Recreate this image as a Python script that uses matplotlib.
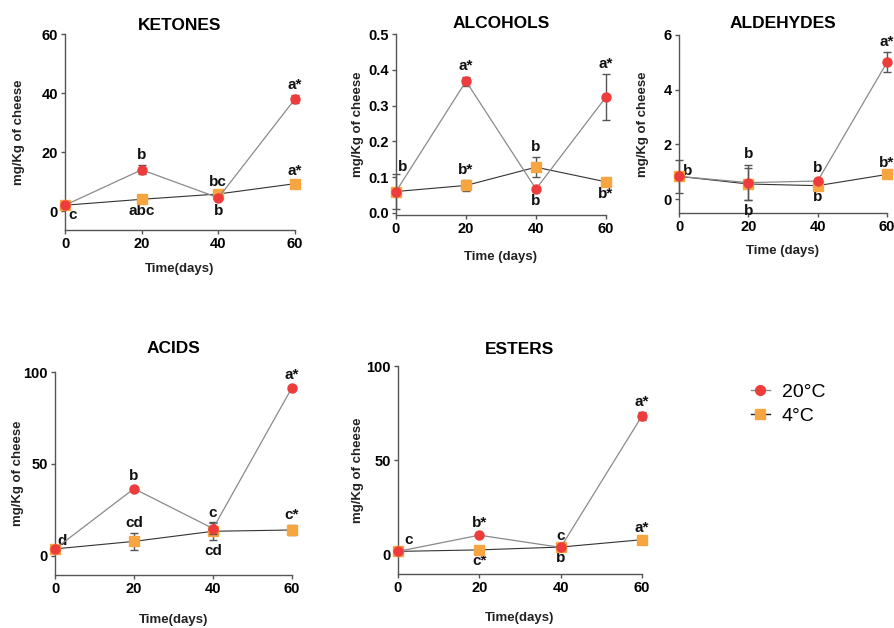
import matplotlib
matplotlib.use("Agg")
import matplotlib.pyplot as plt
from matplotlib.lines import Line2D

plt.rcParams['font.family'] = ['Liberation Sans', 'DejaVu Sans']

days = [0, 20, 40, 60]
xticks = [0, 20, 40, 60]
series_names = ["20°C", "4°C"]

# KETONES
ket_20 = [2.0, 14.0, 4.5, 38.0]
ket_20_err = [0.5, 1.5, 0.8, 1.3]
ket_4 = [2.0, 4.0, 5.8, 9.3]
ket_4_err = [0.3, 0.5, 0.6, 0.8]
ket_lab_20 = ["c", "b", "b", "a*"]
ket_lab_4 = ["", "abc", "bc", "a*"]
ket_yticks = [0, 20, 40, 60]

# ALCOHOLS
alc_20 = [0.06, 0.368, 0.067, 0.324]
alc_20_err = [0.05, 0.012, 0.004, 0.063]
alc_4 = [0.06, 0.077, 0.128, 0.087]
alc_4_err = [0.004, 0.015, 0.028, 0.004]
alc_lab_20 = ["b", "a*", "b", "a*"]
alc_lab_4 = ["", "b*", "b", "b*"]
alc_yticks = [0.0, 0.1, 0.2, 0.3, 0.4, 0.5]

# ALDEHYDES
ald_20 = [0.83, 0.6, 0.66, 5.0]
ald_20_err = [0.6, 0.65, 0.08, 0.37]
ald_4 = [0.83, 0.55, 0.49, 0.9]
ald_4_err = [0.05, 0.6, 0.05, 0.05]
ald_lab_20 = ["b", "b", "b", "a*"]
ald_lab_4 = ["", "b", "b", "b*"]
ald_yticks = [0, 2, 4, 6]

# ACIDS
acd_20 = [3.7, 36.5, 14.8, 91.5]
acd_20_err = [0.5, 1.0, 3.0, 1.0]
acd_4 = [3.7, 7.8, 13.3, 14.0]
acd_4_err = [0.5, 4.5, 5.0, 2.5]
acd_lab_20 = ["d", "b", "c", "a*"]
acd_lab_4 = ["", "cd", "cd", "c*"]
acd_yticks = [0, 50, 100]

# ESTERS
est_20 = [1.6, 10.2, 3.7, 73.5]
est_20_err = [0.3, 0.8, 0.5, 2.0]
est_4 = [1.6, 2.4, 3.9, 7.8]
est_4_err = [0.3, 0.5, 0.5, 0.6]
est_lab_20 = ["c", "b*", "c", "a*"]
est_lab_4 = ["", "c*", "b", "a*"]
est_yticks = [0, 50, 100]

RED = "#EE3B3B"
ORANGE = "#F7A541"
SPINE = "#555555"

fig = plt.figure(figsize=(8.94, 6.28), dpi=100)
W, H = 894, 628

def make_ax(l, r, t, b):
    return fig.add_axes([l / W, 1 - b / H, (r - l) / W, (b - t) / H])

panels = [
    dict(title="KETONES", box=(65, 295, 34, 230), ylim=(-6.4, 60), yt=ket_yticks,
         s20=(ket_20, ket_20_err, ket_lab_20), s4=(ket_4, ket_4_err, ket_lab_4),
         side20=["lr", "a", "b", "a"], side4=["", "b", "a", "a"],
         xlabel="Time(days)", xpad=8.5, tpad=3, fmt=None, ylx=-40),
    dict(title="ALCOHOLS", box=(396, 606, 34, 215), ylim=(-0.0056, 0.5), yt=alc_yticks,
         s20=(alc_20, alc_20_err, alc_lab_20), s4=(alc_4, alc_4_err, alc_lab_4),
         side20=["ur", "a", "b", "a"], side4=["", "a", "a", "b"],
         xlabel="Time (days)", xpad=10.5, tpad=4, fmt="%.1f", ylx=-32),
    dict(title="ALDEHYDES", box=(679, 887, 35, 213), ylim=(-0.51, 6), yt=ald_yticks,
         s20=(ald_20, ald_20_err, ald_lab_20), s4=(ald_4, ald_4_err, ald_lab_4),
         side20=["r", "a", "a", "a"], side4=["", "b", "b", "a"],
         xlabel="Time (days)", xpad=8, tpad=5, fmt=None, ylx=-30),
    dict(title="ACIDS", box=(55, 292, 372, 575), ylim=(-10.5, 100), yt=acd_yticks,
         s20=(acd_20, acd_20_err, acd_lab_20), s4=(acd_4, acd_4_err, acd_lab_4),
         side20=["ur", "a", "a", "a"], side4=["", "a", "b", "a"],
         xlabel="Time(days)", xpad=13, tpad=14, fmt=None, ylx=-31),
    dict(title="ESTERS", box=(398, 642, 366, 574), ylim=(-10.4, 100), yt=est_yticks,
         s20=(est_20, est_20_err, est_lab_20), s4=(est_4, est_4_err, est_lab_4),
         side20=["ur2", "a", "a", "a"], side4=["", "b", "b", "a"],
         xlabel="Time(days)", xpad=12, tpad=9, fmt=None, ylx=-34),
]

def place(ax, x, v, e, text, side):
    if not text:
        return
    kw = dict(textcoords="offset points", fontsize=11, fontweight="bold",
              color="#111111", annotation_clip=False)
    if side == "a":
        ax.annotate(text, (x, v + e), xytext=(0, 2.5), ha="center", va="bottom", **kw)
    elif side == "b":
        ax.annotate(text, (x, v - e), xytext=(0, -2.5), ha="center", va="top", **kw)
    elif side == "ur":
        ax.annotate(text, (x, v + e), xytext=(1.5, 0), ha="left", va="bottom", **kw)
    elif side == "ur2":
        ax.annotate(text, (x, v), xytext=(4.5, 3), ha="left", va="bottom", **kw)
    elif side == "r":
        ax.annotate(text, (x, v), xytext=(3, 4), ha="left", va="center", **kw)
    elif side == "lr":
        ax.annotate(text, (x, v - e), xytext=(2.5, -1), ha="left", va="top", **kw)

for p in panels:
    ax = make_ax(*p["box"])
    v20, e20, l20 = p["s20"]
    v4, e4, l4 = p["s4"]
    eb_kw = dict(ecolor="#555555", elinewidth=1.0, capsize=3, capthick=1.0, clip_on=False)
    h4 = ax.errorbar(days, v4, yerr=e4, color="#333333", lw=0.8, marker="s", ms=6.5,
                     mfc=ORANGE, mec=ORANGE, zorder=3, **eb_kw)
    h20 = ax.errorbar(days, v20, yerr=e20, color="#8a8a8a", lw=0.9, marker="o", ms=6.5,
                      mfc=RED, mec=RED, zorder=4, **eb_kw)
    for c in h4.get_children() + h20.get_children():
        c.set_clip_on(False)
    for i, d in enumerate(days):
        place(ax, d, v20[i], e20[i], l20[i], p["side20"][i])
        place(ax, d, v4[i], e4[i], l4[i], p["side4"][i])
    ax.set_xlim(0, 60)
    ax.set_ylim(*p["ylim"])
    ax.set_xticks(xticks)
    ax.set_yticks(p["yt"])
    if p["fmt"]:
        ax.yaxis.set_major_formatter(matplotlib.ticker.FormatStrFormatter(p["fmt"]))
    for s in ("top", "right"):
        ax.spines[s].set_visible(False)
    for s in ("left", "bottom"):
        ax.spines[s].set_color(SPINE)
        ax.spines[s].set_linewidth(1.0)
    ax.tick_params(length=3, width=1.0, color=SPINE, pad=2, labelsize=10.5)
    for lab in ax.get_xticklabels() + ax.get_yticklabels():
        lab.set_fontweight("bold")
    ax.set_title(p["title"], fontsize=12.5, fontweight="bold", pad=p["tpad"])
    ax.set_xlabel(p["xlabel"], fontsize=9.5, fontweight="bold", labelpad=p["xpad"], color="#222222")
    ax.set_ylabel("mg/Kg of cheese", fontsize=9.5, fontweight="bold", color="#222222")
    l, r, t, b = p["box"]
    ax.yaxis.set_label_coords(p["ylx"] / (r - l), 0.5)
    ax.patch.set_visible(False)

leg_handles = [
    Line2D([], [], color="#8a8a8a", lw=1.0, marker="o", ms=7, mfc=RED, mec=RED),
    Line2D([], [], color="#222222", lw=1.0, marker="s", ms=7, mfc=ORANGE, mec=ORANGE),
]
fig.legend(leg_handles, series_names, loc="center left",
           bbox_to_anchor=(733 / W, 1 - 404 / H), frameon=False, fontsize=14,
           handlelength=1.0, handletextpad=0.6, labelspacing=0.3)

fig.savefig("out.png", dpi=100)
